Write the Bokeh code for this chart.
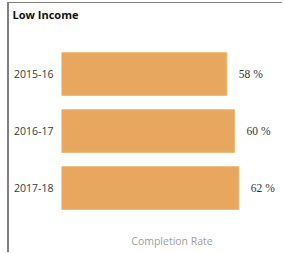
from bokeh.plotting import figure
from bokeh.models import ColumnDataSource, LabelSet
from bokeh.embed import file_html
from bokeh.resources import INLINE

years = ["2015-16", "2016-17", "2017-18"]
rates = [57.6, 60.3, 61.8]
rate_labels = ["58 %", "60 %", "62 %"]

src = ColumnDataSource(dict(y=years, x=rates, lab=rate_labels))

p = figure(width=275, height=250, y_range=list(reversed(years)), x_range=(0, 77),
           output_backend="svg", toolbar_location=None,
           min_border_left=52, min_border_right=2, min_border_top=42, min_border_bottom=37,
           title="Low Income\n ")
p.styles = {"margin-left": "9px", "margin-top": "3px",
            "box-shadow": "-2px -1px 0 0 #808080"}

p.hbar(y="y", right="x", left=0, height=0.75, source=src,
       fill_color="#E7A75E", line_color="#EDB878", line_width=1)

p.add_layout(LabelSet(x="x", y="y", text="lab", source=src, x_offset=12,
                      text_baseline="middle", text_font="Open Sans",
                      text_font_size="11.5px", text_color="#333333"))

p.title.text_font = "Open Sans"
p.title.text_font_size = "11px"
p.title.text_font_style = "bold"
p.title.text_color = "#111111"
p.title.text_line_height = 1.6
p.title.offset = -49
p.title.standoff = 0

p.xgrid.visible = False
p.ygrid.visible = False
p.outline_line_color = None

p.yaxis.axis_line_color = None
p.yaxis.major_tick_line_color = None
p.yaxis.minor_tick_line_color = None
p.yaxis.major_tick_out = 0
p.yaxis.major_tick_in = 0
p.yaxis.major_label_standoff = 8
p.yaxis.major_label_text_font = "Open Sans"
p.yaxis.major_label_text_font_size = "10.5px"
p.yaxis.major_label_text_color = "#3a3a3a"

p.xaxis.ticker = []
p.xaxis.axis_line_color = None
p.xaxis.major_tick_out = 0
p.xaxis.major_tick_in = 0
p.xaxis.axis_label = "Completion Rate"
p.xaxis.axis_label_text_font = "Open Sans"
p.xaxis.axis_label_text_font_style = "normal"
p.xaxis.axis_label_text_font_size = "10.5px"
p.xaxis.axis_label_text_color = "#9e9e9e"
p.xaxis.axis_label_standoff = 17

open("out.html", "w").write(file_html(p, INLINE))
